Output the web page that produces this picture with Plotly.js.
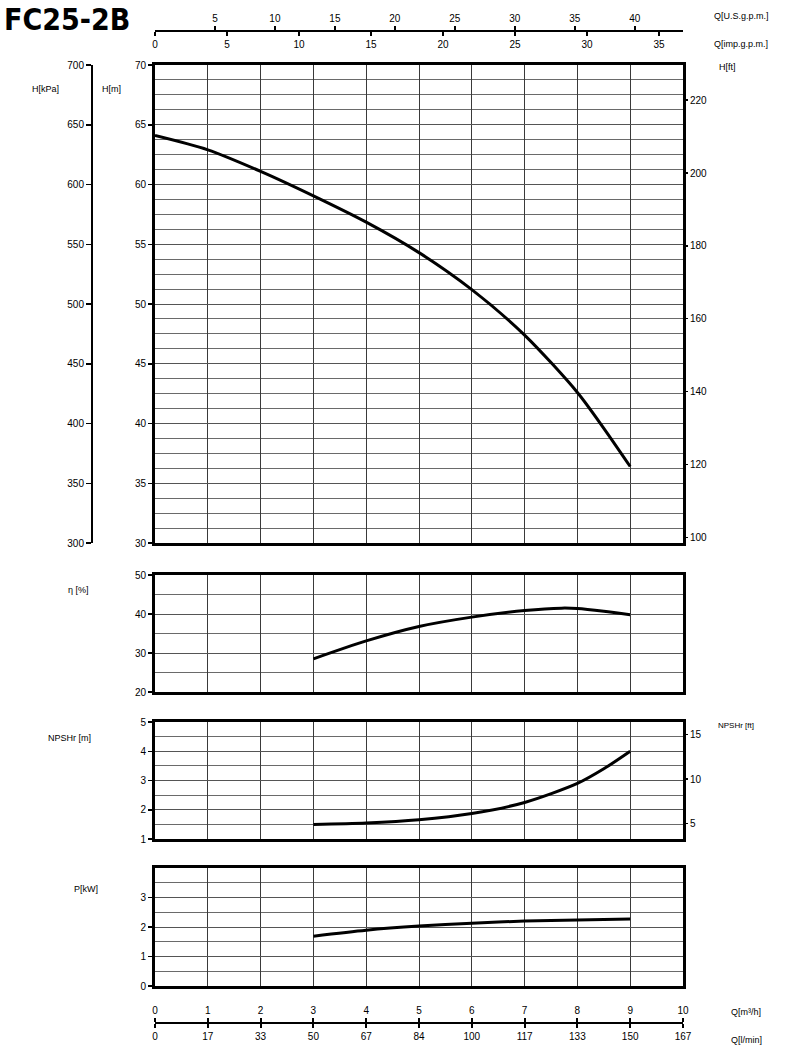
<!DOCTYPE html>
<html>
<head>
<meta charset="utf-8">
<script src="https://cdn.plot.ly/plotly-3.0.1.min.js"></script>
<style>html,body{margin:0;padding:0;background:#fff;}#chart{width:800px;height:1059px;}</style>
</head>
<body>
<div id="chart"></div>
<script>
// ---- data ----
const qHead = [0, 1, 2, 3, 4, 5, 6, 7, 8, 8.5, 9];
const headM = [64.1, 62.9, 61.1, 59.05, 56.85, 54.3, 51.2, 47.4, 42.6, 39.6, 36.4];

const qEta = [3, 4, 5, 6, 7, 7.7, 8, 8.5, 9];
const etaPct = [28.5, 33.1, 36.8, 39.2, 40.9, 41.5, 41.4, 40.7, 39.8];

const qNpsh = [3, 4, 5, 6, 7, 8, 8.5, 9];
const npshM = [1.5, 1.55, 1.66, 1.87, 2.25, 2.9, 3.4, 4.0];

const qPow = [3, 4, 5, 6, 7, 8, 9];
const powKw = [1.69, 1.89, 2.03, 2.13, 2.2, 2.24, 2.27];

const m3hTicks = [0, 1, 2, 3, 4, 5, 6, 7, 8, 9, 10];
const lminLabels = ['0', '17', '33', '50', '67', '84', '100', '117', '133', '150', '167'];
const usGpmTicks = [5, 10, 15, 20, 25, 30, 35, 40];
const impGpmTicks = [0, 5, 10, 15, 20, 25, 30, 35];
const kpaTicks = [300, 350, 400, 450, 500, 550, 600, 650, 700];
const ftHeadTicks = [100, 120, 140, 160, 180, 200, 220];
const ftNpshTicks = [5, 10, 15];

// ---- conversions ----
const M3H_TO_USGPM = 4.40287;
const M3H_TO_IMPGPM = 3.66615;
const M_TO_FT = 1 / 0.3048;

// ---- geometry helpers (page pixels -> paper) ----
const W = 800, H = 1059;
const px = v => v / W;
const py = v => 1 - v / H;
const xDom = [px(155), px(683)];

const FONT = 'Liberation Sans, Arial, sans-serif';
const tickFont = {family: FONT, size: 10, color: '#000'};

function frameX(anchor) {
  return {
    domain: xDom, range: [0, 10], anchor: anchor,
    showticklabels: false, ticks: '', dtick: 1, tick0: 0,
    showgrid: true, gridcolor: '#3a3a3a', gridwidth: 1,
    zeroline: false, showline: true, mirror: true, linecolor: '#000', linewidth: 3
  };
}
function frameY(anchor, dom, range, dtick, minor, tickvals) {
  const a = {
    domain: dom, range: range, anchor: anchor,
    ticks: 'outside', ticklen: 4, tickwidth: 1.5, tickcolor: '#000',
    tickfont: tickFont, dtick: dtick, tick0: range[0],
    showgrid: true, gridcolor: '#555', gridwidth: 1,
    zeroline: false, showline: true, mirror: true, linecolor: '#000', linewidth: 3,
    minor: {dtick: minor, tick0: range[0], showgrid: true, gridcolor: '#6a6a6a', gridwidth: 1, ticks: ''}
  };
  if (tickvals) { a.tickmode = 'array'; a.tickvals = tickvals; delete a.dtick; }
  return a;
}

const curve = {color: '#000', width: 3, shape: 'spline', smoothing: 0.8};
const traces = [
  {x: qHead, y: headM, xaxis: 'x', yaxis: 'y', mode: 'lines', line: curve, hoverinfo: 'skip'},
  {x: qEta, y: etaPct, xaxis: 'x2', yaxis: 'y2', mode: 'lines', line: curve, hoverinfo: 'skip'},
  {x: qNpsh, y: npshM, xaxis: 'x3', yaxis: 'y3', mode: 'lines', line: curve, hoverinfo: 'skip'},
  {x: qPow, y: powKw, xaxis: 'x4', yaxis: 'y4', mode: 'lines', line: curve, hoverinfo: 'skip'}
];
// invisible carriers so the extra scale axes get drawn
[['x', 'y5'], ['x', 'y6'], ['x3', 'y7'], ['x5', 'y'], ['x6', 'y'], ['x7', 'y4'], ['x8', 'y4']].forEach(p => {
  traces.push({x: [null], y: [null], xaxis: p[0], yaxis: p[1], mode: 'markers', marker: {opacity: 0}, hoverinfo: 'skip', showlegend: false});
});

const domH = [py(543), py(65)];
const domE = [py(692), py(575)];
const domN = [py(839), py(722)];
const domP = [py(986), py(868)];

function scaleAxis(side, pos, range, tickvals, ticktext, overlay) {
  const a = {
    overlaying: overlay, anchor: 'free', position: pos, side: side,
    domain: xDom, range: range, tickmode: 'array', tickvals: tickvals,
    ticks: 'outside', ticklen: 4, tickwidth: 2, tickcolor: '#000',
    tickfont: tickFont, showgrid: false, zeroline: false,
    showline: true, linecolor: '#000', linewidth: 2
  };
  if (ticktext) a.ticktext = ticktext;
  return a;
}

const ann = (text, x, y, xa, size) => ({
  text: text, x: px(x), y: py(y), xref: 'paper', yref: 'paper',
  xanchor: xa || 'left', yanchor: 'middle', showarrow: false,
  font: {family: FONT, size: size || 9, color: '#000'}
});

const layout = {
  width: W, height: H,
  margin: {l: 0, r: 0, t: 0, b: 0},
  paper_bgcolor: '#fff', plot_bgcolor: '#fff',
  showlegend: false,
  xaxis: frameX('y'),
  xaxis2: frameX('y2'),
  xaxis3: frameX('y3'),
  xaxis4: frameX('y4'),
  yaxis: frameY('x', domH, [30, 70], 5, 1.25),
  yaxis2: frameY('x2', domE, [20, 50], 10, 5),
  yaxis3: frameY('x3', domN, [1, 5], 1, 0.5),
  yaxis4: frameY('x4', domP, [0, 4], 1, 0.5, [0, 1, 2, 3]),
  yaxis5: {
    overlaying: 'y', anchor: 'free', position: px(92), side: 'left',
    range: [300, 700], tickmode: 'array', tickvals: kpaTicks,
    ticks: 'outside', ticklen: 5, tickwidth: 1.5, tickcolor: '#000', tickfont: tickFont,
    showgrid: false, zeroline: false, showline: true, linecolor: '#000', linewidth: 2
  },
  yaxis6: {
    overlaying: 'y', anchor: 'x', side: 'right',
    range: [30 * M_TO_FT, 70 * M_TO_FT], tickmode: 'array', tickvals: ftHeadTicks,
    ticks: 'outside', ticklen: 4, tickwidth: 1.5, tickcolor: '#000', tickfont: tickFont,
    showgrid: false, zeroline: false, showline: false
  },
  yaxis7: {
    overlaying: 'y3', anchor: 'x3', side: 'right',
    range: [1 * M_TO_FT, 5 * M_TO_FT], tickmode: 'array', tickvals: ftNpshTicks,
    ticks: 'outside', ticklen: 4, tickwidth: 1.5, tickcolor: '#000', tickfont: tickFont,
    showgrid: false, zeroline: false, showline: false
  },
  xaxis5: scaleAxis('top', py(31), [0, 10 * M3H_TO_USGPM], usGpmTicks, null, 'x'),
  xaxis6: scaleAxis('bottom', py(31), [0, 10 * M3H_TO_IMPGPM], impGpmTicks, null, 'x'),
  xaxis7: scaleAxis('top', py(1023), [0, 10], m3hTicks, null, 'x4'),
  xaxis8: scaleAxis('bottom', py(1023), [0, 10], m3hTicks, lminLabels, 'x4'),
  annotations: [
    {text: '<b>FC25-2B</b>', x: px(2), y: py(0), xref: 'paper', yref: 'paper', xanchor: 'left', yanchor: 'top',
     showarrow: false, font: {family: 'Liberation Sans Narrow, DejaVu Sans Condensed, Arial Narrow, sans-serif', size: 30, color: '#000'}},
    ann('Q[U.S.g.p.m.]', 712, 16),
    ann('Q[imp.g.p.m.]', 712, 44),
    ann('H[ft]', 717, 67),
    ann('H[kPa]', 30, 89),
    ann('H[m]', 100, 89),
    ann('η [%]', 66, 590),
    ann('NPSHr [m]', 46, 738),
    ann('NPSHr [ft]', 716, 725, 'left', 8),
    ann('P[kW]', 72, 889),
    ann('Q[m³/h]', 729, 1012),
    ann('Q[l/min]', 729, 1040)
  ]
};

Plotly.newPlot('chart', traces, layout, {staticPlot: true, displayModeBar: false});
</script>
</body>
</html>
